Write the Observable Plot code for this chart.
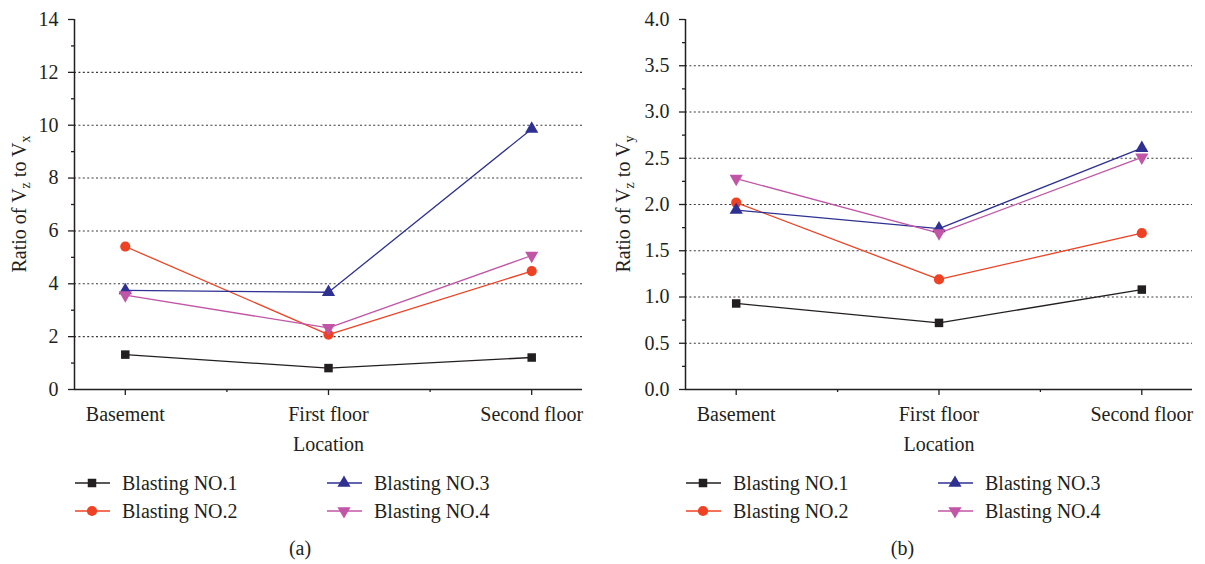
<!DOCTYPE html>
<html>
<head>
<meta charset="utf-8">
<script src="https://cdn.jsdelivr.net/npm/d3@7"></script>
<script src="https://cdn.jsdelivr.net/npm/@observablehq/plot@0.6"></script>
<style>
  html, body { margin: 0; padding: 0; background: #fff; }
  body { font-family: "Liberation Serif", serif; color: #231f20; }
  #wrap { position: relative; width: 1205px; height: 564px; overflow: hidden; }
  .panel { position: absolute; top: 0; height: 564px; }
  .panel svg.plot { position: absolute; left: 0; top: 0; }
  .legend { position: absolute; left: 0; top: 465px; }
  .cap { position: absolute; left: 0; top: 536px; width: 100%; text-align: center; font-size: 20px; line-height: 24px; }
</style>
</head>
<body>
<div id="wrap">
  <div class="panel" id="pa" style="left:0;width:600px"></div>
  <div class="panel" id="pb" style="left:600px;width:605px"></div>
</div>
<script>
// ---- data ----
const locations = ["Basement", "First floor", "Second floor"];
const seriesNames = ["Blasting NO.1", "Blasting NO.2", "Blasting NO.3", "Blasting NO.4"];
const seriesColors = ["#231f20", "#ef4123", "#2e3192", "#c155a6"];
const seriesSymbols = ["square", "circle", "triangle", "triangle"];
const seriesRotate = [0, 0, 0, 180];
const seriesRadius = [4.8, 5.1, 4.9, 4.9];

// (a) ratio of Vz to Vx
const vxNo1 = [1.32, 0.81, 1.21];
const vxNo2 = [5.41, 2.08, 4.48];
const vxNo3 = [3.75, 3.68, 9.86];
const vxNo4 = [3.57, 2.33, 5.07];
const yTicksA = [0, 2, 4, 6, 8, 10, 12, 14];

// (b) ratio of Vz to Vy
const vyNo1 = [0.93, 0.72, 1.08];
const vyNo2 = [2.02, 1.19, 1.69];
const vyNo3 = [1.94, 1.74, 2.61];
const vyNo4 = [2.28, 1.69, 2.51];
const yTicksB = [0, 0.5, 1.0, 1.5, 2.0, 2.5, 3.0, 3.5, 4.0];

const FONT = "Liberation Serif";
const INK = "#231f20";

function makePanel(el, cfg) {
  const { width, marginLeft, marginRight, values, ticks, fmt, sub, capLabel } = cfg;
  const yMax = ticks[ticks.length - 1];
  const step = ticks[1] - ticks[0];
  const minor = ticks.slice(0, -1).map(t => t + step / 2);
  const grid = ticks.slice(1, -1);
  const data = seriesNames.flatMap((s, i) => values[i].map((v, j) => ({ series: s, loc: j, v })));

  const dotMarks = seriesNames.map((s, i) =>
    Plot.dot(data.filter(d => d.series === s), {
      x: "loc", y: "v",
      symbol: seriesSymbols[i],
      r: seriesRadius[i],
      fill: seriesColors[i],
      stroke: "none",
      rotate: seriesRotate[i]
    })
  );

  const svg = Plot.plot({
    width, height: 460,
    marginLeft, marginRight, marginTop: 19, marginBottom: 71,
    x: { domain: [-0.25, 2.25], axis: null },
    y: { domain: [0, yMax], axis: null },
    color: { domain: seriesNames, range: seriesColors },
    style: { fontFamily: FONT, fontSize: "20px", color: INK, background: "white", overflow: "visible" },
    marks: [
      Plot.gridY(grid, { stroke: "#3a3a3a", strokeOpacity: 1, strokeWidth: 1.1, strokeDasharray: "2,2.4" }),
      Plot.axisY(ticks, { tickSize: 6, tickPadding: 10, tickFormat: fmt, label: null, strokeWidth: 1.3 }),
      Plot.axisY(minor, { tickSize: 3, tickFormat: () => "", label: null, strokeWidth: 1.3 }),
      Plot.axisX([0, 1, 2], { tickSize: 6, tickPadding: 11, tickFormat: i => locations[i], label: null, strokeWidth: 1.3 }),
      Plot.axisX([0.5, 1.5], { tickSize: 3, tickFormat: () => "", label: null, strokeWidth: 1.3 }),
      Plot.ruleX([-0.25], { y1: 0, y2: yMax, stroke: INK, strokeWidth: 1.5 }),
      Plot.ruleY([0], { x1: -0.25, x2: 2.25, stroke: INK, strokeWidth: 1.5 }),
      Plot.line(data, { x: "loc", y: "v", z: "series", stroke: "series", strokeWidth: 1.3 }),
      ...dotMarks,
      Plot.text(["Location"], { frameAnchor: "bottom", dy: 61, fill: INK, fontSize: 20 })
    ]
  });
  svg.classList.add("plot");

  // y-axis label with subscripts
  const t = d3.select(svg).append("text")
    .attr("transform", `translate(${cfg.labelX},204) rotate(-90)`)
    .attr("text-anchor", "middle")
    .attr("fill", INK)
    .attr("font-family", FONT)
    .attr("font-size", 20);
  t.append("tspan").text("Ratio of V");
  t.append("tspan").attr("font-size", 14).attr("dy", 4).text("z");
  t.append("tspan").attr("dy", -4).text(" to V");
  t.append("tspan").attr("font-size", 14).attr("dy", 4).text(sub);

  el.appendChild(svg);

  // legend
  const lg = d3.select(el).append("svg")
    .attr("class", "legend")
    .attr("width", width).attr("height", 64)
    .attr("font-family", FONT).attr("font-size", 20);
  const symMap = { square: d3.symbolSquare, circle: d3.symbolCircle, triangle: d3.symbolTriangle };
  seriesNames.forEach((s, i) => {
    const col = Math.floor(i / 2), row = i % 2;
    const x0 = marginLeft + 1 + col * 252;
    const y = 18 + row * 28;
    const g = lg.append("g");
    g.append("line").attr("x1", x0).attr("x2", x0 + 35).attr("y1", y).attr("y2", y)
      .attr("stroke", seriesColors[i]).attr("stroke-opacity", 0.75).attr("stroke-width", 2);
    const r = seriesRadius[i];
    g.append("path")
      .attr("d", d3.symbol(symMap[seriesSymbols[i]], Math.PI * r * r)())
      .attr("transform", `translate(${x0 + 17},${y}) rotate(${seriesRotate[i]})`)
      .attr("fill", seriesColors[i]);
    g.append("text").attr("x", x0 + 47).attr("y", y).attr("dy", "0.35em")
      .attr("fill", INK).text(s);
  });

  const cap = document.createElement("div");
  cap.className = "cap";
  cap.textContent = capLabel;
  el.appendChild(cap);
}

makePanel(document.getElementById("pa"), {
  width: 600, marginLeft: 74, marginRight: 18,
  values: [vxNo1, vxNo2, vxNo3, vxNo4],
  ticks: yTicksA, fmt: d => String(d), sub: "x", labelX: 26, capLabel: "(a)"
});
makePanel(document.getElementById("pb"), {
  width: 605, marginLeft: 85, marginRight: 13,
  values: [vyNo1, vyNo2, vyNo3, vyNo4],
  ticks: yTicksB, fmt: d3.format(".1f"), sub: "y", labelX: 30, capLabel: "(b)"
});
</script>
</body>
</html>
